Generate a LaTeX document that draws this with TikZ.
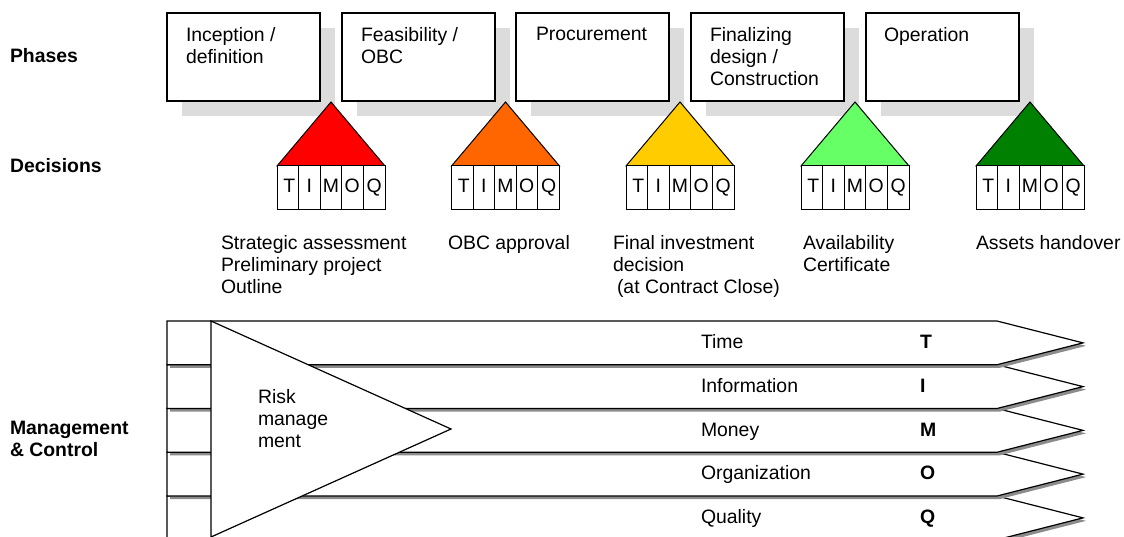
\documentclass[tikz,border=0pt]{standalone}
\usepackage{fontspec}
\setmainfont{Liberation Sans}
\usetikzlibrary{shadows}

\definecolor{boxshadow}{HTML}{DCDCDC}
\definecolor{barshadow}{HTML}{8C8C8C}
\definecolor{decred}{HTML}{FF0000}
\definecolor{decorange}{HTML}{FF6600}
\definecolor{decyellow}{HTML}{FFCC00}
\definecolor{declightgreen}{HTML}{66FF66}
\definecolor{decdarkgreen}{HTML}{008000}

\begin{document}
\begin{tikzpicture}[x=1pt,y=-1pt,
  every node/.style={inner sep=0pt, outer sep=0pt},
  txt/.style={font=\fontsize{19.4}{22}\selectfont, anchor=base west},
  mtxt/.style={font=\fontsize{19.4}{22}\selectfont, anchor=north west, align=left},
  hdr/.style={font=\fontsize{19.4}{22}\selectfont\bfseries, anchor=north west, align=left},
  phasebox/.style={draw, line width=1.2pt, fill=white, anchor=north west,
    minimum width=153pt, minimum height=88pt,
    drop shadow={shadow xshift=15pt, shadow yshift=-15pt, fill=boxshadow, opacity=1}},
  roof/.style={draw, line width=1pt},
  cell/.style={draw, line width=1pt, fill=white, minimum width=21.6pt, minimum height=44pt,
    text height=22pt, text depth=12pt, font=\fontsize{19.4}{22}\selectfont},
  bar/.style={draw, line width=1.2pt, fill=white, line join=miter},
  barshade/.style={fill=barshadow},
]
\path[use as bounding box, clip] (0,0) rectangle (1124,537);

% row headings
\node[hdr] (hphases) at (10,62-13.9) {Phases};
\node[hdr] (hdecisions) at (10,172-13.9) {Decisions};
\node[hdr] (hmanage) at (10,435-13.9) {Management\\\& Control};

% project phases
\node[phasebox] (ph1) at (167,13) {};
\node[phasebox] (ph2) at (342,13) {};
\node[phasebox] (ph3) at (516,13) {};
\node[phasebox] (ph4) at (691,13) {};
\node[phasebox] (ph5) at (866,13) {};
\node[mtxt] (ph1t) at (186,41-13.9) {Inception /\\definition};
\node[mtxt] (ph2t) at (361,41-13.9) {Feasibility /\\OBC};
\node[mtxt] (ph3t) at (536,41-13.9) {Procurement};
\node[mtxt] (ph4t) at (710,41-13.9) {Finalizing\\design /\\Construction};
\node[mtxt] (ph5t) at (884,41-13.9) {Operation};

% decision houses: coloured roof over the T I M O Q cells
\foreach \cx/\col/\n in {331/decred/1, 505.5/decorange/2, 680/decyellow/3,
                         855/declightgreen/4, 1030/decdarkgreen/5} {
  \draw[roof, fill=\col] (\cx,102) -- (\cx+54,166) -- (\cx-54,166) -- cycle;
  \foreach \L/\dx [count=\k from 0] in {T/3,I/0,M/0,O/-1,Q/0} {
    \node[cell] (d\n\L) at (\cx-54+21.6*\k+10.8,188) {\hspace*{\dx pt}\L};
  }
}

% decision descriptions
\node[mtxt] (dec1) at (221,249.5-13.9) {Strategic assessment\\Preliminary project\\Outline};
\node[mtxt] (dec2) at (448,249.5-13.9) {OBC approval};
\node[mtxt] (dec3) at (613,249.5-13.9) {Final investment\\decision\\\hspace*{4pt}(at Contract Close)};
\node[mtxt] (dec4) at (803,249.5-13.9) {Availability\\Certificate};
\node[mtxt] (dec5) at (976,249.5-13.9) {Assets handover};

% management and control bars, lowest first so each shadow falls on the bar below
\foreach \i in {4,3,2,1,0} {
  \pgfmathsetmacro\t{321+43.75*\i}
  \path[barshade] (170,\t+3) -- (1000,\t+3) -- (1086,\t+24.875)
    -- (1000,\t+46.75) -- (170,\t+46.75) -- cycle;
  \path[bar] (167,\t) -- (997,\t) -- (1083,\t+21.875)
    -- (997,\t+43.75) -- (167,\t+43.75) -- cycle;
}

% risk management wedge
\path[bar] (211,321) -- (451,429) -- (211,537) -- cycle;
\node[mtxt] (risk) at (258,403-13.9) {Risk\\manage\\ment};

% bar labels
\foreach \lab/\ltr [count=\i from 0] in {Time/T, Information/I, Money/M, Organization/O, Quality/Q} {
  \node[txt] (bar\ltr) at (701,348.5+43.75*\i) {\lab};
  \node[txt, font=\fontsize{19.4}{22}\selectfont\bfseries] (key\ltr) at (920,348.5+43.75*\i) {\ltr};
}
\end{tikzpicture}
\end{document}
